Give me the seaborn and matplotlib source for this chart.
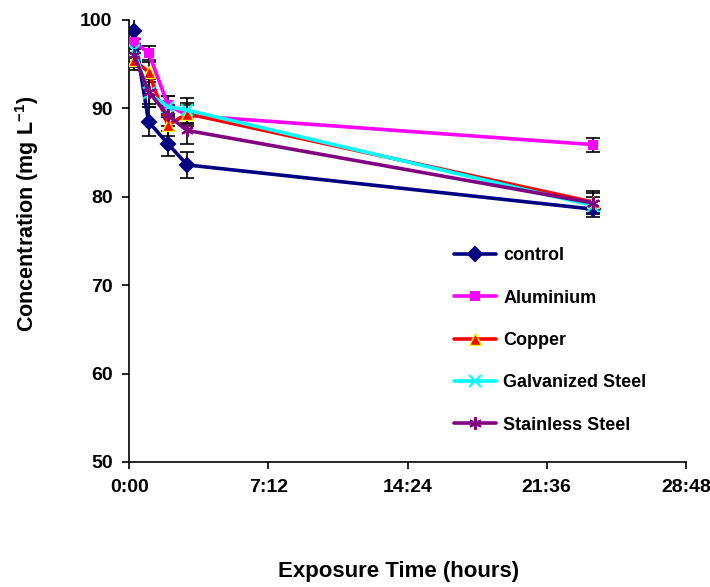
import matplotlib
matplotlib.use("Agg")
import matplotlib.pyplot as plt
import numpy as np
import pandas as pd
import seaborn as sns
from matplotlib.ticker import FuncFormatter

# exposure times in hours
hours = [0.25, 1.0, 2.0, 3.0, 24.0]

control = [98.7, 88.5, 86.0, 83.6, 78.6]
control_err = [1.6, 1.6, 1.4, 1.5, 0.9]
aluminium = [97.5, 96.3, 90.4, 89.2, 85.9]
aluminium_err = [1.2, 0.8, 1.0, 1.2, 0.8]
copper = [95.5, 94.1, 88.1, 89.4, 79.4]
copper_err = [1.2, 1.1, 1.2, 1.2, 1.2]
galvanized = [96.6, 91.7, 90.2, 89.8, 79.0]
galvanized_err = [1.3, 1.6, 1.2, 1.4, 1.0]
stainless = [96.0, 91.9, 89.2, 87.5, 79.3]
stainless_err = [1.3, 1.4, 1.2, 1.5, 1.1]

labels = ["control", "Aluminium", "Copper", "Galvanized Steel", "Stainless Steel"]
values = [control, aluminium, copper, galvanized, stainless]
errors = [control_err, aluminium_err, copper_err, galvanized_err, stainless_err]

colors = ["#000080", "#FF00FF", "#FF0000", "#00FFFF", "#800080"]
markers = ["D", "s", "^", "x", (6, 2, 0)]
edge_colors = ["#000080", "#FF00FF", "#FFFF00", "#00FFFF", "#800080"]
sizes = [7, 6, 8, 8, 9]

df = pd.DataFrame(
    [(h, v, e, lab) for lab, vals, errs in zip(labels, values, errors)
     for h, v, e in zip(hours, vals, errs)],
    columns=["hours", "conc", "err", "material"],
)

sns.set_style("ticks")
plt.rcParams["font.family"] = ["Liberation Sans", "DejaVu Sans"]
plt.rcParams["font.weight"] = "bold"
plt.rcParams["text.color"] = "black"
plt.rcParams["axes.labelcolor"] = "black"
plt.rcParams["xtick.color"] = "black"
plt.rcParams["ytick.color"] = "black"
plt.rcParams["axes.edgecolor"] = "black"
plt.rcParams["mathtext.fontset"] = "custom"
plt.rcParams["mathtext.rm"] = "Liberation Sans:bold"
plt.rcParams["mathtext.bf"] = "Liberation Sans:bold"

fig = plt.figure(figsize=(7.1, 5.87), dpi=100)
ax = fig.add_axes([0.182, 0.213, 0.784, 0.753])

for lab, col, mk, ec, ms in zip(labels, colors, markers, edge_colors, sizes):
    sub = df[df["material"] == lab]
    ax.errorbar(sub["hours"], sub["conc"], yerr=sub["err"], fmt="none",
                ecolor="black", elinewidth=1.2, capsize=5, capthick=1.2, zorder=2)
    sns.lineplot(data=sub, x="hours", y="conc", ax=ax, color=col, linewidth=2.6,
                 marker=mk, markersize=ms, markerfacecolor=col,
                 markeredgecolor=ec, markeredgewidth=1.5 if lab != "Copper" else 1.0,
                 label=lab, zorder=3, errorbar=None, sort=False)

ax.set_xlim(0, 28.8)
ax.set_ylim(50, 100)
ax.set_xticks([0, 7.2, 14.4, 21.6, 28.8])
ax.set_yticks([50, 60, 70, 80, 90, 100])
ax.xaxis.set_major_formatter(
    FuncFormatter(lambda h, _: f"{int(h)}:{int(round((h % 1) * 60)):02d}"))
ax.tick_params(axis="both", labelsize=14, direction="out", length=5, width=1.2,
               pad=7)
for lbl in ax.get_xticklabels() + ax.get_yticklabels():
    lbl.set_fontweight("bold")

ax.set_xlabel("Exposure Time (hours)", fontsize=16, fontweight="bold")
ax.set_ylabel("Concentration (mg L$^{-1}$)", fontsize=15.5, fontweight="bold")
ax.xaxis.set_label_coords(0.483, -0.224)
ax.yaxis.set_label_coords(-0.158, 0.561)

sns.despine(ax=ax)
ax.spines["left"].set_linewidth(1.2)
ax.spines["bottom"].set_linewidth(1.2)

ax.legend(loc="upper left", bbox_to_anchor=(0.555, 0.522), frameon=False,
          prop={"weight": "bold", "size": 13}, handlelength=2.3,
          labelspacing=1.4, handletextpad=0.4)

fig.savefig("out.png", dpi=100)
